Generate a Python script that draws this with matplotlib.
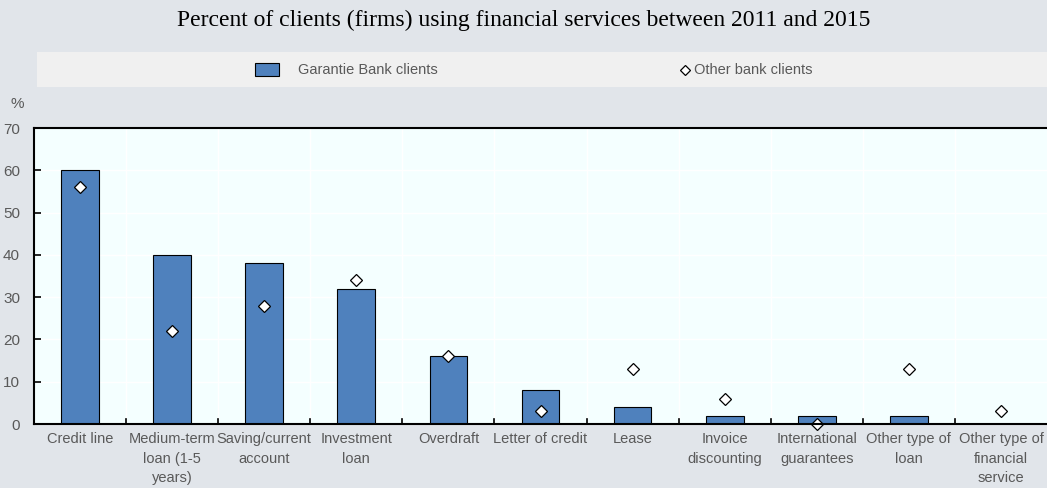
import numpy as np
import matplotlib.pyplot as plt
from matplotlib.patches import Rectangle
from matplotlib.lines import Line2D

# services offered and share of firms using them (%)
categories = [
    "Credit line", "Medium-term\nloan (1-5\nyears)", "Saving/current\naccount",
    "Investment\nloan", "Overdraft", "Letter of credit", "Lease",
    "Invoice\ndiscounting", "International\nguarantees", "Other type of\nloan",
    "Other type of\nfinancial\nservice",
]
garantie = [60, 40, 38, 32, 16, 8, 4, 2, 2, 2, 0]
other_bank = [56, 22, 28, 34, 16, 3, 13, 6, 0, 13, 3]

BG = "#e1e5ea"
PLOT_BG = "#f4ffff"
BAR = "#4f81bd"
GREY = "#595959"

plt.rcParams["font.family"] = ["Liberation Sans", "DejaVu Sans"]

fig = plt.figure(figsize=(10.47, 4.88), dpi=100, facecolor=BG)
ax = fig.add_axes([34 / 1047, 64 / 488, 1 - 34 / 1047, 296 / 488])
ax.set_facecolor(PLOT_BG)

x = np.arange(len(categories))
ax.bar(x, garantie, width=0.41, color=BAR, edgecolor="black", linewidth=0.8, zorder=3)
ax.plot(x, other_bank, linestyle="none", marker="D", markersize=6.5,
        markerfacecolor="white", markeredgecolor="black", markeredgewidth=0.9,
        zorder=4, clip_on=False)

ax.set_xlim(-0.5, len(categories) - 0.5)
ax.set_ylim(0, 70)
ax.set_yticks(range(0, 71, 10))
ax.set_xticks(x)
ax.set_xticklabels(categories, fontsize=10.5, color=GREY, linespacing=1.5)
ax.tick_params(axis="x", length=0, pad=6)
ax.tick_params(axis="y", direction="in", length=5, width=1.2, labelsize=11,
               labelcolor=GREY, pad=10)

# white grid: horizontal at each 10, vertical between categories
for yv in range(10, 70, 10):
    ax.axhline(yv, color="white", linewidth=1, zorder=1)
for b in np.arange(0.5, len(categories) - 0.5, 1):
    ax.axvline(b, color="white", linewidth=1, zorder=1)
    ax.plot([b, b], [0, 1.2], color="black", linewidth=1.2, zorder=5)

ax.spines["right"].set_visible(False)
for side in ["left", "bottom", "top"]:
    ax.spines[side].set_linewidth(1.5)
    ax.spines[side].set_zorder(6)

fig.text(17 / 1047, 1 - 104 / 488, "%", ha="center", va="center",
         fontsize=11, color=GREY)

fig.text(0.5, 1 - 20 / 488, "Percent of clients (firms) using financial services between 2011 and 2015",
         ha="center", va="center", fontsize=17, family="Liberation Serif")

# legend strip
fig.patches.append(Rectangle((37 / 1047, 1 - 87 / 488), 1 - 37 / 1047, 35 / 488,
                             transform=fig.transFigure, facecolor="#f0f0f0",
                             edgecolor="none", zorder=0))
ly = 1 - 69.5 / 488
fig.patches.append(Rectangle((255 / 1047, ly - 6 / 488), 24 / 1047, 12 / 488,
                             transform=fig.transFigure, facecolor=BAR,
                             edgecolor="black", linewidth=0.8))
fig.text(298 / 1047, ly, "Garantie Bank clients", ha="left", va="center",
         fontsize=10.5, color=GREY)
fig.lines.append(Line2D([685 / 1047], [ly], marker="D", markersize=5.5,
                        markerfacecolor="white", markeredgecolor="black",
                        markeredgewidth=0.9, transform=fig.transFigure))
fig.text(694 / 1047, ly, "Other bank clients", ha="left", va="center",
         fontsize=10.5, color=GREY)

fig.savefig("out.png", dpi=100, facecolor=BG)
